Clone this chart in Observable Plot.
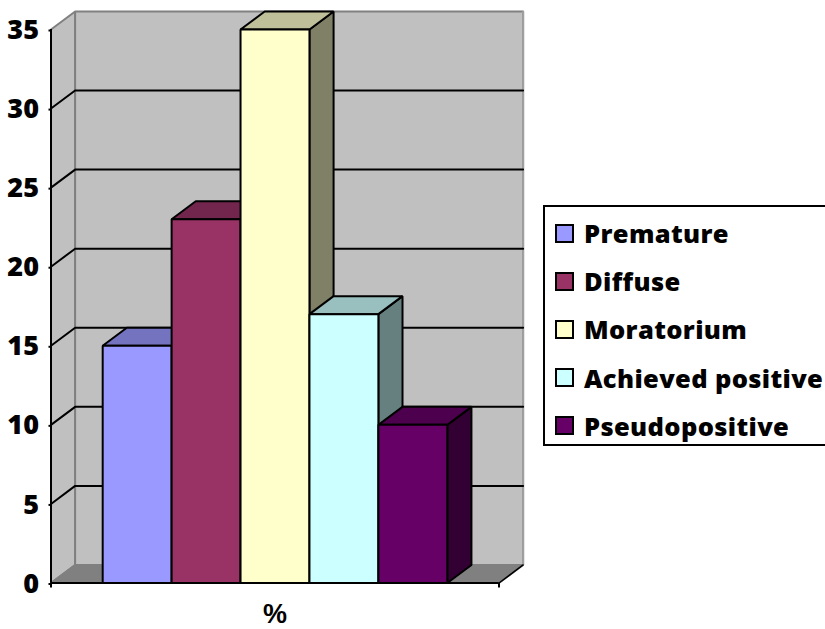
<!DOCTYPE html>
<html>
<head>
<meta charset="utf-8">
<script src="https://cdn.jsdelivr.net/npm/d3@7"></script>
<script src="https://cdn.jsdelivr.net/npm/@observablehq/plot@0.6"></script>
<style>
html,body{margin:0;padding:0;background:#fff;overflow:hidden}
#wrap{display:flex;align-items:flex-start;width:825px;height:629px}
#wrap svg{display:block;flex:none}
#legend{flex:none;box-sizing:border-box;width:282px;height:241px;margin-top:205px;border:2px solid #000;border-right:none;padding-top:2px;
 font:800 25.5px "Open Sans",sans-serif;letter-spacing:.35px;color:#000}
.row{display:flex;align-items:center;height:48.2px;white-space:nowrap}
.sw{flex:none;box-sizing:border-box;width:19px;height:19px;border:2px solid #000;margin:0 10px 0 10px}
</style>
</head>
<body>
<div id="wrap"></div>
<script>
const categories = ["Premature", "Diffuse", "Moratorium", "Achieved positive", "Pseudopositive"];
const values = [15, 23, 35, 17, 10];
const frontColors = ["#9999FF", "#993366", "#FFFFCC", "#CCFFFF", "#660066"];
const topColors = ["#7373BF", "#73264D", "#BFBF99", "#99BFBF", "#4D004D"];
const sideColors = ["#666680", "#4D1933", "#808066", "#668080", "#330033"];
const yTicks = [0, 5, 10, 15, 20, 25, 30, 35];
const axisLabel = "%";

// Extent of the category axis, in bar widths, and the oblique depth of the 3D box in data units
const x0 = -0.75, x1 = 5.75, yMax = 35;
const depthX = 0.35, depthY = 1.14;

const back = (x, y) => ({x: x + depthX, y: y + depthY});
const front = (x, y) => ({x, y});
const face = (pts, fill, stroke, strokeWidth = 2) =>
  Plot.line(pts, {x: "x", y: "y", fill, stroke, strokeWidth, curve: "linear-closed", strokeLinejoin: "miter"});
const edge = (pts, stroke, strokeWidth = 2) =>
  Plot.line(pts, {x: "x", y: "y", stroke, strokeWidth});

const box = categories.flatMap((c, i) => {
  const a = i, b = i + 1, v = values[i];
  return [
    face([front(b, 0), back(b, 0), back(b, v), front(b, v)], sideColors[i], "#000"),
    face([front(a, v), front(b, v), back(b, v), back(a, v)], topColors[i], "#000"),
    face([front(a, 0), front(b, 0), front(b, v), front(a, v)], frontColors[i], "#000")
  ];
});

const gridTicks = yTicks.filter(t => t > 0 && t < yMax);

const chart = Plot.plot({
  width: 543, height: 629,
  marginLeft: 50.5, marginRight: 44.5, marginTop: 29, marginBottom: 46.5,
  style: {background: "#fff", overflow: "visible"},
  x: {type: "linear", domain: [x0, x1], axis: null},
  y: {type: "linear", domain: [0, yMax], axis: null},
  marks: [
    // walls and floor
    face([front(x0, 0), front(x0, yMax), back(x0, yMax), back(x0, 0)], "#C0C0C0", "#808080"),
    face([back(x0, 0), back(x0, yMax), back(x1, yMax), back(x1, 0)], "#C0C0C0", "#808080"),
    face([front(x0, 0), front(x1, 0), back(x1, 0), back(x0, 0)], "#808080", "#808080"),
    edge([back(x1, 0), back(x1, yMax)], "#A0A0A0"),
    edge([front(x1, 0), back(x1, 0)], "#000", 1.5),
    // gridlines: along the back wall, and slanting across the side wall
    ...gridTicks.map(t => edge([back(x1, t), back(x0, t), front(x0, t)], "#000")),
    // bars
    ...box,
    // axes
    Plot.ruleX([x0], {y1: 0, y2: yMax, stroke: "#000", strokeWidth: 2}),
    Plot.ruleY([0], {x1: x0, x2: x1, stroke: "#000", strokeWidth: 2}),
    Plot.axisY({anchor: "left", ticks: yTicks, tickSize: 2, tickPadding: 10, strokeWidth: 2, stroke: "#000",
      label: null, fontSize: 27, fontWeight: 800, fontFamily: "Open Sans", fill: "#000", dy: 1}),
    Plot.axisX({anchor: "bottom", ticks: [x0, x1], tickSize: 5, strokeWidth: 2, stroke: "#000", label: null, tickFormat: () => ""}),
    Plot.axisX({anchor: "bottom", ticks: [categories.length / 2], tickSize: 0, tickPadding: 21, label: null,
      tickFormat: () => axisLabel, fontSize: 27, fontWeight: 700, fontFamily: "Liberation Sans", fill: "#000"})
  ]
});

const wrap = document.getElementById("wrap");
wrap.append(chart);
const legend = d3.select(wrap).append("div").attr("id", "legend");
const rows = legend.selectAll("div").data(categories).join("div").attr("class", "row");
rows.append("span").attr("class", "sw").style("background", (d, i) => frontColors[i]);
rows.append("span").text(d => d);
</script>
</body>
</html>
